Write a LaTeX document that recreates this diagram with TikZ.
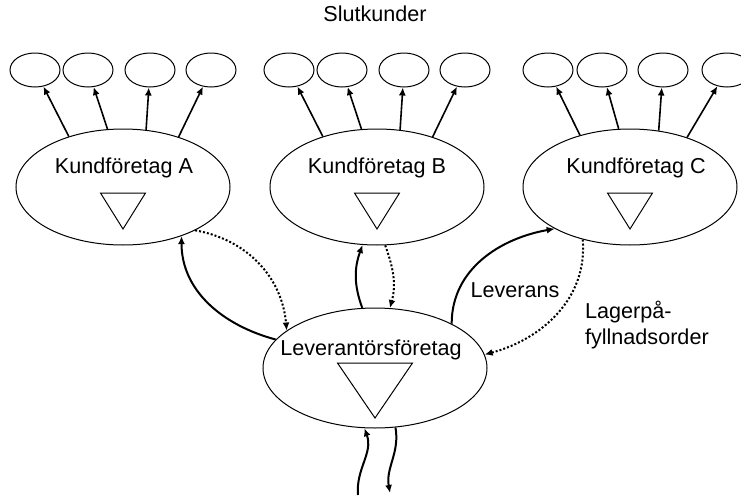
\documentclass[tikz,border=0pt]{standalone}
\usepackage{fontspec}
\setmainfont{Liberation Sans}
\usetikzlibrary{arrows.meta,shapes.geometric}

\begin{document}
\begin{tikzpicture}[x=0.5pt,y=0.5pt,
  font=\fontsize{10.8}{13}\selectfont,
  foretag/.style={draw,ellipse,line width=0.5pt,inner sep=0pt,minimum width=107pt,minimum height=58pt},
  kund/.style={draw,ellipse,line width=0.5pt,inner sep=0pt,minimum width=25pt,minimum height=17pt},
  lager/.style={line width=0.5pt},
  sale/.style={line width=0.8pt,-{Latex[length=4pt,width=3.5pt]}},
  flow/.style={line width=1pt,-{Latex[length=4pt,width=3.5pt]}},
  order/.style={flow,dash pattern=on 1pt off 1pt}]
\useasboundingbox (0,0) rectangle (741,495);

\node (slut) at (375,481) {Slutkunder};

% kundforetag
\node[foretag] (A) at (123,308) {};
\node[foretag] (B) at (377,308) {};
\node[foretag] (C) at (630,308) {};
\node (tA) at (124,327) {Kundföretag A};
\node (tB) at (377,327) {Kundföretag B};
\node (tC) at (636,327) {Kundföretag C};
\foreach \n in {A,B,C}
  \draw[lager] ([shift={(-22.5,-6)}]\n.center) -- ++(45,0) -- ++(-22.5,-36) -- cycle;

% slutkunder
\foreach \i/\x in {1/35,2/88,3/150,4/211} \node[kund] (a\i) at (\x,425) {};
\foreach \i/\x in {1/289,2/342,3/404,4/465} \node[kund] (b\i) at (\x,425) {};
\foreach \i/\x in {1/548,2/602,3/663,4/727} \node[kund] (c\i) at (\x,425) {};
\foreach \i/\a in {1/137,2/105,3/68,4/42} {
  \draw[sale] (A.\a) -- (a\i);
  \draw[sale] (B.\a) -- (b\i);
}
\foreach \i/\a in {1/134,2/101,3/63,4/41} \draw[sale] (C.\a) -- (c\i);

% leverantor
\node[foretag,minimum width=112pt,minimum height=60pt] (L) at (375,127) {};
\node (tL) at (371,145) {Leverantörsföretag};
\draw[lager] ([shift={(-37.5,5)}]L.center) -- ++(75,0) -- ++(-37.5,-55) -- cycle;

% floden
\draw[flow] (L.164) to[out=165,in=-90] (A.-40);
\draw[order] (A.-31) to[out=-10,in=95] (L.157);
\draw[flow] (L.102) to[out=110,in=-110] (B.-104);
\draw[order] (B.-82) to[out=-70,in=75] (L.76);
\draw[flow] (L.30) to[out=90,in=190] (C.209);
\draw[order] (C.228) to[out=-85,in=15] (L.7);

\node (lev) at (515,205) {Leverans};
\node[align=left,anchor=west] (lag) at (578,170) {Lagerpå-\\fyllnadsorder};

\coordinate (inn) at (358,0);
\coordinate (ut) at (390,2);
\draw[flow] (inn) to[out=95,in=-70] (L.-100);
\draw[flow] (L.-71) to[out=-80,in=100] (ut);
\end{tikzpicture}
\end{document}
